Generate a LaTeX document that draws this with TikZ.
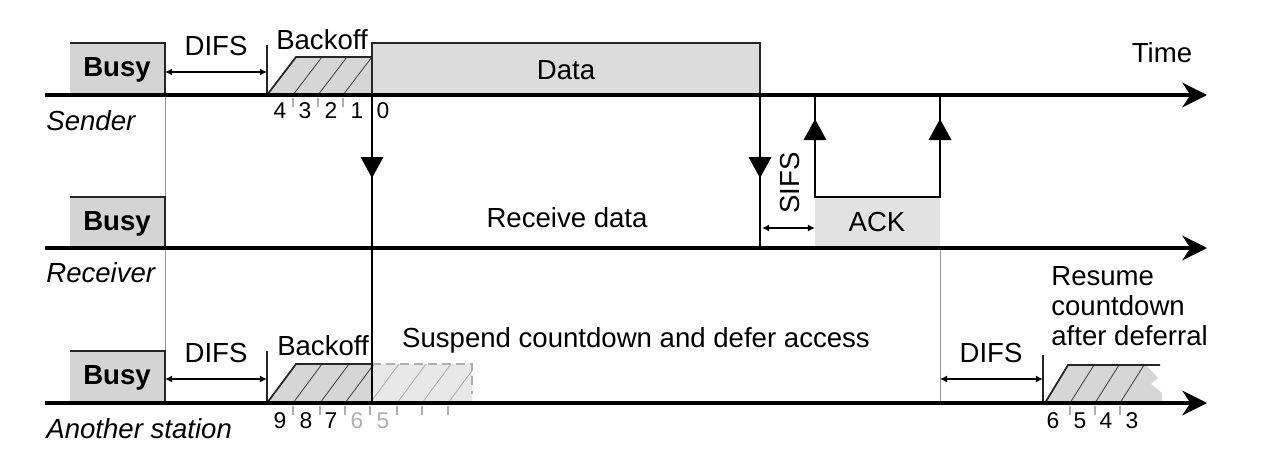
\documentclass[tikz,border=0pt]{standalone}
\usepackage{fontspec}
\setmainfont{Liberation Sans}
\usetikzlibrary{arrows.meta}
\definecolor{busyfill}{RGB}{212,212,212}
\definecolor{datafill}{RGB}{220,220,220}
\definecolor{ackfill}{RGB}{226,226,226}
\definecolor{bofill}{RGB}{214,214,214}
\definecolor{bolight}{RGB}{232,232,232}
\definecolor{hatchdark}{RGB}{70,70,70}
\definecolor{hatchlight}{RGB}{175,175,175}
\definecolor{numlight}{RGB}{175,175,175}
\definecolor{guide}{RGB}{150,150,150}
\begin{document}
\begin{tikzpicture}[x=0.02cm,y=-0.02cm,
  timeline/.style={line width=2.1pt,-{Stealth[length=14pt,width=14pt,inset=4.5pt]}},
  vline/.style={line width=1.1pt},
  edge/.style={line width=1pt,draw=black!85},
  guideline/.style={line width=0.5pt,draw=guide},
  hatch/.style={line width=0.5pt,draw=hatchdark},
  hatchl/.style={line width=0.5pt,draw=hatchlight},
  tick/.style={line width=0.6pt,draw=hatchlight},
  span/.style={line width=0.8pt,{Latex[length=4pt,width=4pt]}-{Latex[length=4pt,width=4pt]}},
  lbl/.style={font=\fontsize{15.7}{19}\selectfont,inner sep=0pt},
  bold/.style={font=\fontsize{15.7}{19}\selectfont\bfseries,inner sep=0pt},
  side/.style={font=\fontsize{15.7}{19}\selectfont\itshape,inner sep=0pt,anchor=west},
  num/.style={font=\fontsize{13}{15}\selectfont,inner sep=0pt},
  numl/.style={num,text=numlight},
]
\useasboundingbox (0,0) rectangle (1267,463);

% ---------- guide lines ----------
\draw[guideline] (165,95) -- (165,351);
\draw[guideline] (940,248) -- (940,403);

% ---------- Busy boxes ----------
\foreach \t/\b/\n in {43/95/a,197/248/b,351/403/c}{
  \fill[busyfill] (70,\t) rectangle (165,\b);
  \draw[edge] (70,\t) -- (165,\t) -- (165,\b);
  \node[bold] (busy\n) at (117,{(\t+\b)/2+1}) {Busy};
}

% ---------- Sender ----------
\draw[edge] (267,45) -- (267,95);
\draw[span] (165,72) -- (267,72);
\node[lbl] (difs1) at (216,46) {DIFS};

\fill[bofill] (267,95) -- (296,57) -- (372,57) -- (372,95) -- cycle;
\begin{scope}
  \clip (267,95) -- (296,57) -- (372,57) -- (372,95) -- cycle;
  \foreach \x in {293,318,343} \draw[hatch] (\x,95) -- (\x+29,57);
\end{scope}
\draw[edge] (267,95) -- (296,57) -- (372,57);
\node[lbl] (bo1) at (322,40) {Backoff};
\foreach \x in {293,318,343} \draw[tick] (\x,98) -- (\x,107);
\foreach \x/\d in {280/4,305/3,331/2,357/1,383/0}
  \node[num] at (\x,111) {\d};

\fill[datafill] (372,43) rectangle (760,95);
\draw[edge] (372,95) -- (372,43) -- (760,43) -- (760,95);
\node[lbl] (data) at (566,70) {Data};
\node[lbl] (time) at (1162,53) {Time};

% ---------- Receiver ----------
\fill[ackfill] (815,197) rectangle (940,248);
\node[lbl] (ack) at (877,222) {ACK};
\node[lbl] (recv) at (567,218) {Receive data};
\draw[span] (762,228) -- (815,228);
\node[lbl,rotate=90] (sifs) at (790,183) {SIFS};

% ---------- Another station ----------
\draw[edge] (267,351) -- (267,403);
\draw[span] (165,379) -- (267,379);
\node[lbl] (difs2) at (216,353) {DIFS};
\node[lbl] (bo2) at (323,346) {Backoff};
\node[lbl] (susp) at (636,340) {Suspend countdown and defer access};

\fill[bolight] (372,364) rectangle (472,403);
\fill[bofill] (267,403) -- (296,364) -- (372,364) -- (372,403) -- cycle;
\begin{scope}
  \clip (267,403) -- (296,364) -- (472,364) -- (472,403) -- cycle;
  \foreach \x in {293,320,345} \draw[hatch] (\x,403) -- (\x+29,364);
  \foreach \x in {370,397,422,448} \draw[hatchl] (\x,403) -- (\x+29,364);
\end{scope}
\draw[edge] (267,403) -- (296,364) -- (372,364);
\draw[hatchl,line width=0.9pt,dash pattern=on 5pt off 3pt] (372,364) -- (472,364) -- (472,394);
\foreach \x in {293,320,345,370,397,422,448} \draw[tick] (\x,406) -- (\x,415);
\foreach \x/\d in {280/9,306/8,331/7}
  \node[num] at (\x,421) {\d};
\foreach \x/\d in {357/6,383/5}
  \node[numl] at (\x,421) {\d};

\draw[edge] (1043,355) -- (1043,403);
\draw[span] (940,379) -- (1043,379);
\node[lbl] (difs3) at (991,353) {DIFS};
\node[lbl,align=left,anchor=north west,font=\fontsize{15.7}{17}\selectfont] (resume) at (1051,266) {Resume\\countdown\\after deferral};

\fill[bofill] (1045,403) -- (1068,365) -- (1146,365) -- (1158,378) -- (1151,384) -- (1162,393) -- (1162,403) -- cycle;
\begin{scope}
  \clip (1045,403) -- (1068,365) -- (1160,365) -- (1160,403) -- cycle;
  \foreach \x in {1070,1095,1120} \draw[hatch] (\x,403) -- (\x+24,365);
\end{scope}
\draw[edge] (1045,403) -- (1068,365) -- (1160,365);
\foreach \x in {1070,1095,1120} \draw[tick] (\x,406) -- (\x,415);
\foreach \x/\d in {1053/6,1080/5,1106/4,1132/3}
  \node[num] at (\x,421) {\d};

% ---------- vertical transmissions ----------
\draw[vline] (372,95) -- (372,403);
\draw[vline] (760,95) -- (760,248);
\draw[vline] (815,95) -- (815,197) -- (940,197) -- (940,95);
\foreach \x in {372,760}
  \fill (\x,178) -- (\x-11.5,157) -- (\x+11.5,157) -- cycle;
\foreach \x in {815,940}
  \fill (\x,119) -- (\x-11.5,140) -- (\x+11.5,140) -- cycle;

% ---------- timelines ----------
\coordinate (s0) at (45,95);  \coordinate (s1) at (1207,95);
\coordinate (r0) at (45,248); \coordinate (r1) at (1207,248);
\coordinate (a0) at (45,403); \coordinate (a1) at (1207,403);
\draw[timeline] (s0) -- (s1);
\draw[timeline] (r0) -- (r1);
\draw[timeline] (a0) -- (a1);

\node[side] (sender) at (46,121) {Sender};
\node[side] (receiver) at (46,273) {Receiver};
\node[side] (another) at (46,429) {Another station};
\end{tikzpicture}
\end{document}
